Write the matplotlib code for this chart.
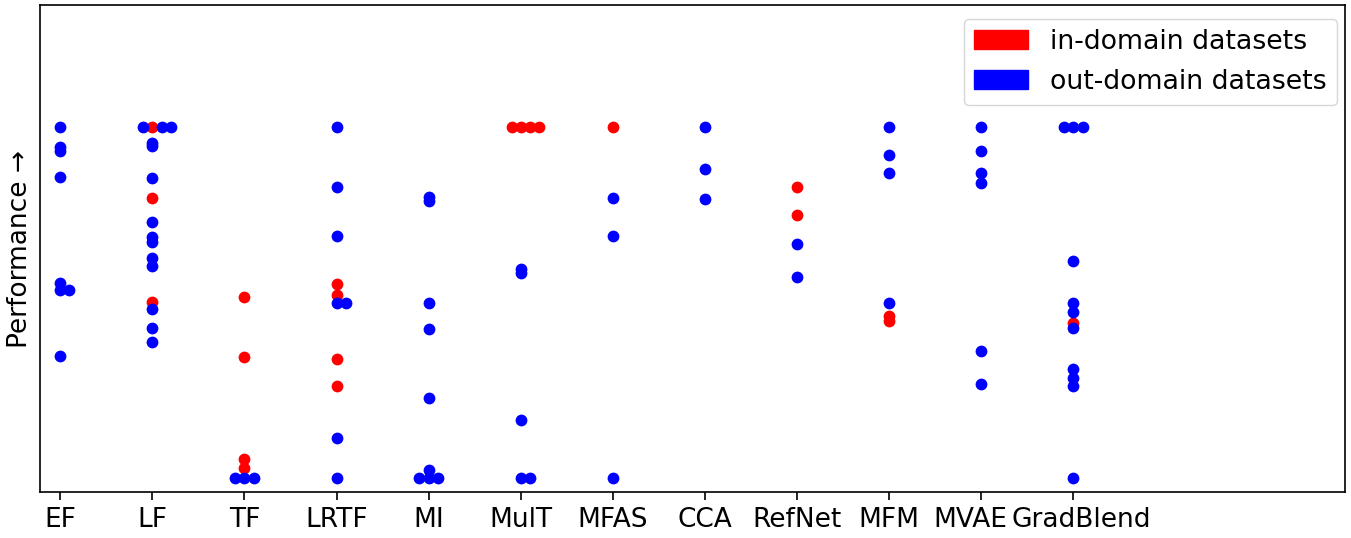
import numpy as np
import matplotlib
matplotlib.use("Agg")
import matplotlib.pyplot as plt
import matplotlib.transforms as mtransforms
from matplotlib.patches import Patch

methods = ["EF", "LF", "TF", "LRTF", "MI", "MulT", "MFAS", "CCA",
           "RefNet", "MFM", "MVAE", "GradBlend"]

# normalised performance per method, one entry per dataset
scores = [
    [1.0, 0.944, 0.932, 0.859, 0.556, 0.536, 0.536, 0.348],
    [1.0, 1.0, 1.0, 1.0, 0.956, 0.946, 0.856, 0.798, 0.730, 0.688, 0.673,
     0.626, 0.605, 0.502, 0.482, 0.428, 0.388],
    [0.516, 0.344, 0.055, 0.029, 0.0, 0.0, 0.0],
    [1.0, 0.829, 0.690, 0.554, 0.523, 0.499, 0.499, 0.339, 0.263, 0.113, 0.0],
    [0.801, 0.789, 0.499, 0.426, 0.229, 0.023, 0.0, 0.0, 0.0],
    [1.0, 1.0, 1.0, 1.0, 0.595, 0.583, 0.165, 0.0, 0.0],
    [1.0, 0.799, 0.689, 0.0],
    [1.0, 0.881, 0.794],
    [0.829, 0.751, 0.666, 0.573],
    [1.0, 0.922, 0.868, 0.500, 0.462, 0.447],
    [1.0, 0.933, 0.868, 0.842, 0.362, 0.269],
    [1.0, 1.0, 1.0, 0.618, 0.500, 0.474, 0.441, 0.428, 0.310, 0.286, 0.262, 0.0],
]
# "i" = in-domain dataset, "o" = out-domain dataset
domains = [
    "oooooooo",
    "oioooooioooooiooo",
    "iiiiooo",
    "oooiiooiioo",
    "ooooooooo",
    "iiiiooooo",
    "iooo",
    "ooo",
    "iioo",
    "ooooii",
    "oooooo",
    "ooooooiooooo",
]

xs, ys, cs = [], [], []
for i, (vals, doms) in enumerate(zip(scores, domains)):
    # spread tied values sideways so they don't sit on top of each other
    for v in sorted(set(vals), reverse=True):
        idx = [k for k, s in enumerate(vals) if s == v]
        n = len(idx)
        for j, k in enumerate(idx):
            xs.append(i + (j - (n - 1) // 2) * 0.1)
            ys.append(v)
            cs.append(doms[k])

xs, ys, cs = np.array(xs), np.array(ys), np.array(cs)

plt.rcParams["font.size"] = 19
fig = plt.figure(figsize=(13.51, 5.38), dpi=100)
ax = fig.add_axes([0.0296, 0.0855, 0.966, 0.905])

red = cs == "i"
ax.scatter(xs[red], ys[red], s=72, color="red", linewidths=0)
ax.scatter(xs[~red], ys[~red], s=72, color="blue", linewidths=0)

ax.set_xticks(range(len(methods)))
ax.set_xticklabels(methods)
ax.set_yticks([])
ax.set_xlim(-0.22, 13.95)
ax.set_ylim(-0.04, 1.348)
ax.set_ylabel("Performance →", labelpad=5)
ax.tick_params(axis="x", length=6, width=1.2, pad=5)
for sp in ax.spines.values():
    sp.set_linewidth(1.2)

# the last two labels sit slightly apart, as in the original figure
labels = ax.get_xticklabels()
for lab, dx in ((labels[10], -11), (labels[11], 8)):
    lab.set_transform(lab.get_transform() +
                      mtransforms.ScaledTranslation(dx / 100, 0, fig.dpi_scale_trans))

handles = [Patch(color="red", label="in-domain datasets"),
           Patch(color="blue", label="out-domain datasets")]
ax.legend(handles=handles, loc="upper right", fontsize=19.3,
          bbox_to_anchor=(1.004, 1.0))

fig.savefig("out.png", dpi=100)
